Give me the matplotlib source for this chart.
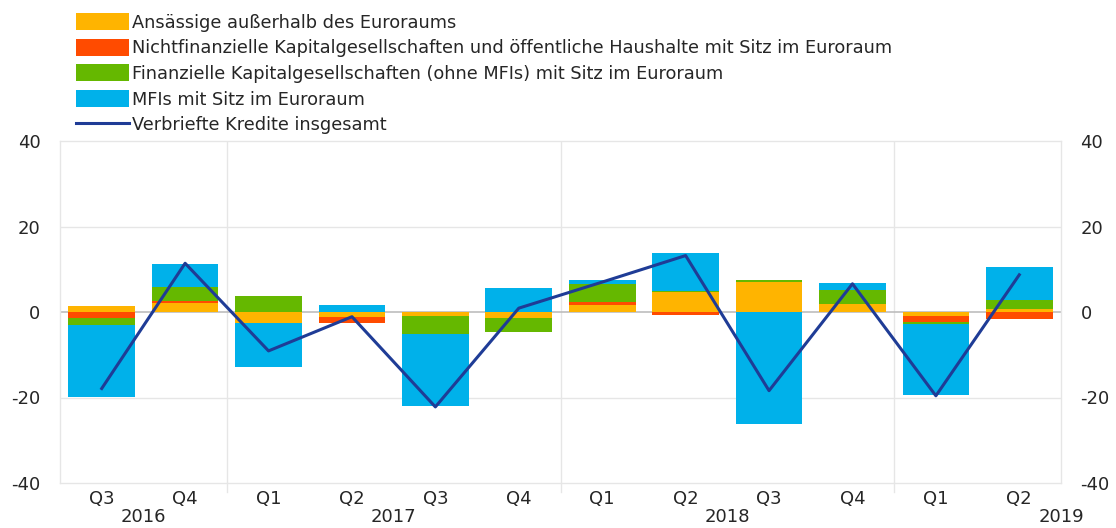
import numpy as np
import matplotlib.pyplot as plt
from matplotlib.patches import Patch
from matplotlib.lines import Line2D

plt.rcParams['font.family'] = ['DejaVu Sans']
plt.rcParams['axes.unicode_minus'] = False

# Quartale
quartale = ['Q3', 'Q4', 'Q1', 'Q2', 'Q3', 'Q4', 'Q1', 'Q2', 'Q3', 'Q4', 'Q1', 'Q2']
jahre = ['2016', '2017', '2018', '2019']
jahr_pos = [0.5, 3.5, 7.5, 11.5]
jahr_grenzen = [1.5, 5.5, 9.5]

# Beiträge (Mrd EUR)
ausserhalb = [1.3, 2.1, -2.6, -1.2, -1.0, -1.4, 1.7, 4.7, 7.0, 1.9, -0.9, 0.7]
nichtfin = [-1.4, 0.5, 0.0, -1.4, 0.0, 0.0, 0.6, -0.8, 0.0, 0.0, -1.4, -1.6]
finanz = [-1.6, 3.2, 3.8, 0.0, -4.1, -3.3, 4.3, 0.3, 0.5, 3.2, -0.5, 2.2]
mfis = [-16.8, 5.5, -10.3, 1.7, -16.9, 5.5, 0.8, 8.8, -26.2, 1.6, -16.6, 7.6]
insgesamt = [-17.9, 11.4, -9.1, -1.1, -22.2, 0.9, 7.0, 13.2, -18.4, 6.6, -19.6, 8.7]

serien = [ausserhalb, nichtfin, finanz, mfis]
farben = ['#FFB400', '#FF4B00', '#65B800', '#00B1EA']
namen = ['Ansässige außerhalb des Euroraums',
         'Nichtfinanzielle Kapitalgesellschaften und öffentliche Haushalte mit Sitz im Euroraum',
         'Finanzielle Kapitalgesellschaften (ohne MFIs) mit Sitz im Euroraum',
         'MFIs mit Sitz im Euroraum']
linien_farbe = '#1F3C96'
text_farbe = '#262626'
grid_farbe = '#E6E6E6'

fig = plt.figure(figsize=(11.16, 5.28), dpi=100)
ax = fig.add_axes([60 / 1116, 45 / 528, 1001 / 1116, 342 / 528])

x = np.arange(len(quartale))
pos = np.zeros(len(x))
neg = np.zeros(len(x))
for werte, farbe in zip(serien, farben):
    werte = np.array(werte)
    unten = np.where(werte >= 0, pos, neg)
    ax.bar(x, werte, 0.8, bottom=unten, color=farbe, zorder=2)
    pos += np.clip(werte, 0, None)
    neg += np.clip(werte, None, 0)

ax.plot(x, insgesamt, color=linien_farbe, lw=2.2, zorder=3)

ax.set_xlim(-0.5, 11.5)
ax.set_ylim(-40, 40)
ax.set_yticks([-40, -20, 0, 20, 40])
for yv in [-20, 20]:
    ax.axhline(yv, color=grid_farbe, lw=1, zorder=0)
ax.axhline(0, color='#BDBDBD', lw=1.2, zorder=1)
for g in jahr_grenzen:
    ax.axvline(g, color=grid_farbe, lw=1, zorder=0)
    ax.plot([g, g], [-40, -42], color=grid_farbe, lw=1, clip_on=False)

for s in ax.spines.values():
    s.set_color(grid_farbe)
    s.set_linewidth(1)

ax.tick_params(axis='y', length=0, labelsize=13, labelcolor=text_farbe,
               pad=14, labelleft=True, labelright=True)
ax.set_xticks(x)
ax.set_xticklabels(quartale)
ax.tick_params(axis='x', length=0, labelsize=13, labelcolor=text_farbe, pad=5)

for j, p in zip(jahre, jahr_pos):
    ax.text(p, -0.074, j, transform=ax.get_xaxis_transform(),
            ha='center', va='top', fontsize=13, color=text_farbe)

handles = [Patch(facecolor=f, edgecolor='none') for f in farben]
handles.append(Line2D([0], [0], color=linien_farbe, lw=2.2))
labels = namen + ['Verbriefte Kredite insgesamt']
fig.legend(handles, labels, loc='upper left', bbox_to_anchor=(76 / 1116, 1 - 13 / 528),
           frameon=False, fontsize=12.8, handlelength=3.0, handleheight=1.1,
           handletextpad=0.15, labelspacing=0.4, borderpad=0, borderaxespad=0,
           labelcolor=text_farbe)

fig.savefig('out.png', dpi=100)
